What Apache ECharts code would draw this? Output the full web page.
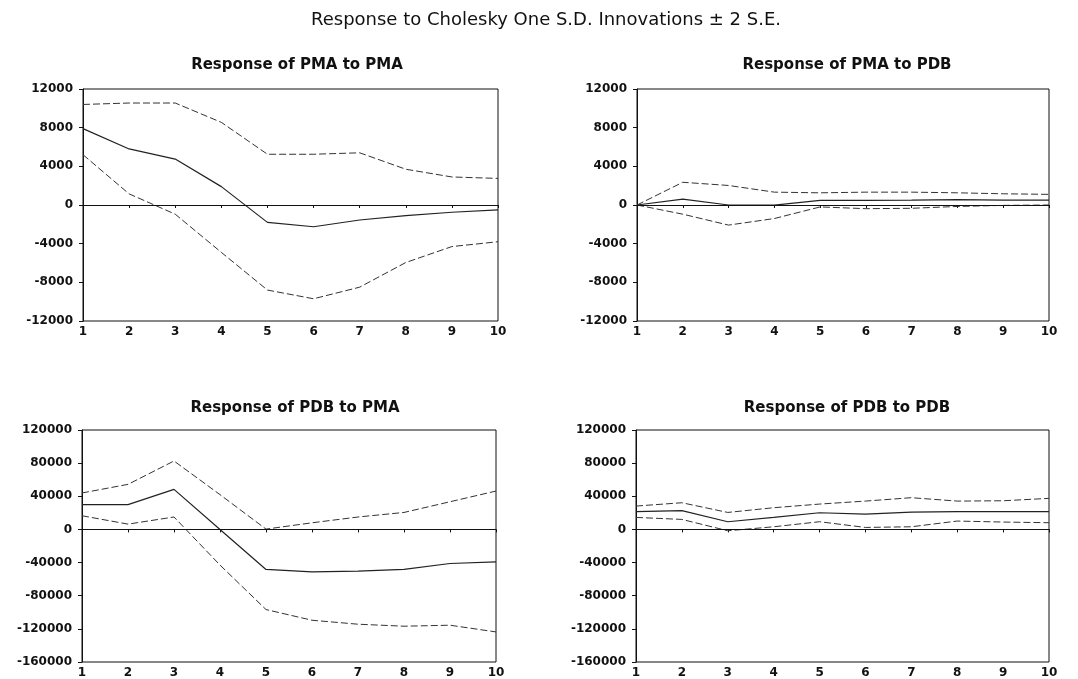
<!DOCTYPE html>
<html>
<head>
<meta charset="utf-8">
<script src="https://cdn.jsdelivr.net/npm/echarts@6/dist/echarts.min.js"></script>
<style>
html,body{margin:0;padding:0;background:#fff;}
#chart{width:1078px;height:679px;}
</style>
</head>
<body>
<div id="chart"></div>
<script>
// ---- data ----
const periods = ['1','2','3','4','5','6','7','8','9','10'];

const mainTitle = 'Response to Cholesky One S.D. Innovations \u00b1 2 S.E.';
const panelTitles = ['Response of PMA to PMA','Response of PMA to PDB','Response of PDB to PMA','Response of PDB to PDB'];

// Response of PMA to PMA
const pmaPma    = [7900, 5800, 4750, 1900, -1800, -2250, -1550, -1100, -750, -500];
const pmaPmaUp  = [10400, 10550, 10550, 8550, 5250, 5250, 5400, 3700, 2900, 2750];
const pmaPmaLo  = [5200, 1150, -950, -4900, -8800, -9700, -8500, -5950, -4300, -3800];

// Response of PMA to PDB
const pmaPdb    = [0, 600, 0, -20, 480, 480, 500, 550, 510, 510];
const pmaPdbUp  = [0, 2350, 2020, 1330, 1260, 1330, 1330, 1260, 1160, 1100];
const pmaPdbLo  = [0, -950, -2080, -1400, -200, -380, -340, -150, -40, 0];

// Response of PDB to PMA
const pdbPma    = [30000, 30000, 48300, 0, -48300, -51200, -50300, -48300, -41100, -39100];
const pdbPmaUp  = [44000, 54400, 82600, 42000, 400, 8000, 15000, 20500, 33400, 46300];
const pdbPmaLo  = [16500, 6400, 15000, -43000, -96700, -109600, -114400, -116800, -115600, -123700];

// Response of PDB to PDB
const pdbPdb    = [21400, 22600, 9300, 14500, 20100, 18500, 20900, 21400, 21400, 21400];
const pdbPdbUp  = [28200, 32200, 20500, 26200, 30600, 34200, 38300, 34200, 34600, 37500];
const pdbPdbLo  = [14500, 12100, -1600, 3200, 9300, 2400, 3200, 10100, 8900, 8100];

const panels = [
  {mid: pmaPma, up: pmaPmaUp, lo: pmaPmaLo},
  {mid: pmaPdb, up: pmaPdbUp, lo: pmaPdbLo},
  {mid: pdbPma, up: pdbPmaUp, lo: pdbPmaLo},
  {mid: pdbPdb, up: pdbPdbUp, lo: pdbPdbLo}
];
const yRanges = [
  {min: -12000, max: 12000, interval: 4000},
  {min: -12000, max: 12000, interval: 4000},
  {min: -160000, max: 120000, interval: 40000},
  {min: -160000, max: 120000, interval: 40000}
];

// ---- layout ----
const grids = [
  {left: 83,  top: 89,  width: 415, height: 232},
  {left: 637, top: 89,  width: 412, height: 232},
  {left: 82,  top: 430, width: 414, height: 232},
  {left: 636, top: 430, width: 413, height: 232}
];
const titlePos = [
  {x: 292, y: 53}, {x: 842, y: 53}, {x: 290, y: 396}, {x: 842, y: 396}
];

const FONT = 'DejaVu Sans';
const option = {
  backgroundColor: '#fff',
  animation: false,
  title: [
    {text: mainTitle, left: 541, top: 6, textAlign: 'center',
     textStyle: {fontFamily: FONT, fontSize: 18, fontWeight: 'normal', color: '#111'}}
  ].concat(panelTitles.map((t, i) => ({
     text: t, left: titlePos[i].x, top: titlePos[i].y, textAlign: 'center',
     textStyle: {fontFamily: FONT, fontSize: 15, fontWeight: 'bold', color: '#111'}
  }))),
  grid: grids.map(g => Object.assign({show: true, borderColor: '#111', borderWidth: 1, containLabel: false}, g)),
  xAxis: grids.map((g, i) => ({
    type: 'category', gridIndex: i, data: periods, boundaryGap: false,
    axisLine: {show: true, lineStyle: {color: '#111', width: 1}},
    axisTick: {show: true, alignWithLabel: true, length: 3, lineStyle: {color: '#111'}},
    axisLabel: {fontFamily: FONT, fontSize: 12, fontWeight: 'bold', color: '#111', margin: 5, interval: 0},
    splitLine: {show: false}
  })),
  yAxis: grids.map((g, i) => ({
    type: 'value', gridIndex: i,
    min: yRanges[i].min, max: yRanges[i].max, interval: yRanges[i].interval,
    axisLine: {show: true, lineStyle: {color: '#111', width: 1}},
    axisTick: {show: true, length: 4, lineStyle: {color: '#111'}},
    axisLabel: {fontFamily: FONT, fontSize: 12, fontWeight: 'bold', color: '#111', margin: 10,
                formatter: v => String(v)},
    splitLine: {show: false}
  })),
  series: []
};

panels.forEach((p, i) => {
  option.series.push({
    type: 'line', xAxisIndex: i, yAxisIndex: i, data: p.mid, symbol: 'none',
    lineStyle: {color: '#222', width: 1.2, type: 'solid'},
    markLine: {silent: true, symbol: 'none', label: {show: false},
      lineStyle: {color: '#111', width: 1, type: 'solid'}, data: [{yAxis: 0}]}
  });
  option.series.push({
    type: 'line', xAxisIndex: i, yAxisIndex: i, data: p.up, symbol: 'none',
    lineStyle: {color: '#333', width: 1, type: [7, 3]}
  });
  option.series.push({
    type: 'line', xAxisIndex: i, yAxisIndex: i, data: p.lo, symbol: 'none',
    lineStyle: {color: '#333', width: 1, type: [7, 3]}
  });
});

const chart = echarts.init(document.getElementById('chart'), null, {renderer: 'canvas'});
chart.setOption(option);
</script>
</body>
</html>
